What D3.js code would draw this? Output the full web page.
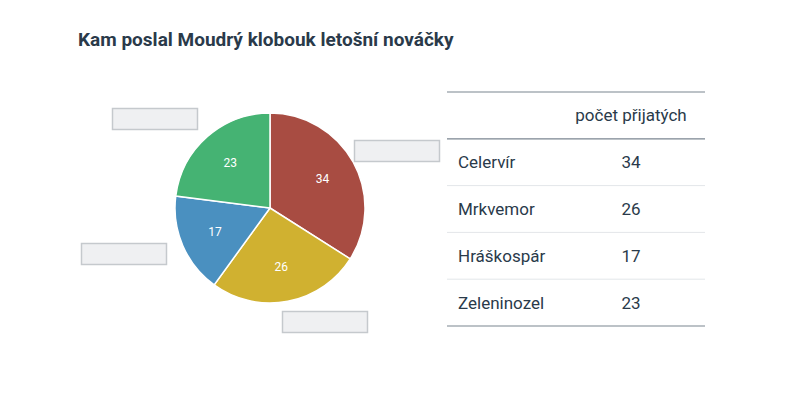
<!DOCTYPE html><html><head><meta charset="utf-8"><script src="https://cdn.jsdelivr.net/npm/d3@7"></script>
<style>body{margin:0;background:#fff;font-family:Roboto,sans-serif}</style></head><body><svg width="800" height="400"></svg>
<script>
const categories=["Celervír","Mrkvemor","Hráškospár","Zeleninozel"];
const values=[34,26,17,23];
const colors=["#a84c42","#d0b130","#4a90c0","#45b373"];
const header="počet přijatých";
const title="Kam poslal Moudrý klobouk letošní nováčky";
const svg=d3.select("svg");
const C="#2a3a4a";
svg.append("text").attr("x",78).attr("y",46).attr("font-size",19).attr("font-weight",700).attr("fill",C).text(title);
const g=svg.append("g").attr("transform","translate(270,208)");
const arcs=d3.pie().sort(null)(values);
const arc=d3.arc().innerRadius(0).outerRadius(95);
g.selectAll("path").data(arcs).join("path").attr("d",arc).attr("fill",(d,i)=>colors[i]).attr("stroke","#fff").attr("stroke-width",1.5);
const la=d3.arc().innerRadius(60).outerRadius(60);
g.selectAll("text").data(arcs).join("text").attr("transform",d=>`translate(${la.centroid(d)})`).attr("text-anchor","middle").attr("dy","0.35em").attr("font-size",12).attr("fill","#fff").text(d=>d.data);
const boxOff=[[127,-57],[55,114],[-146,46],[-115,-89]];
g.selectAll("rect").data(boxOff).join("rect").attr("x",d=>d[0]-42.5).attr("y",d=>d[1]-10.5).attr("width",85).attr("height",21).attr("fill","#eff0f2").attr("stroke","#c5c9cd").attr("stroke-width",1.5);
const x0=447,x1=705;
const y=d3.scaleLinear().domain([0,5]).range([92,326]);
d3.range(6).forEach(i=>svg.append("line").attr("x1",x0).attr("x2",x1).attr("y1",y(i)).attr("y2",y(i)).attr("stroke",i==0||i==1||i==5?"#7a8590":"#e3e6e9").attr("stroke-width",i==0||i==1||i==5?1.2:1));
svg.append("text").attr("x",631).attr("y",(y(0)+y(1))/2).attr("dy","0.35em").attr("text-anchor","middle").attr("font-size",17).attr("fill",C).text(header);
categories.forEach((c,i)=>{const yy=(y(i+1)+y(i+2))/2;
svg.append("text").attr("x",458).attr("y",yy).attr("dy","0.35em").attr("font-size",17).attr("fill",C).text(c);
svg.append("text").attr("x",631).attr("y",yy).attr("dy","0.35em").attr("text-anchor","middle").attr("font-size",17).attr("fill",C).text(values[i]);});
</script></body></html>
